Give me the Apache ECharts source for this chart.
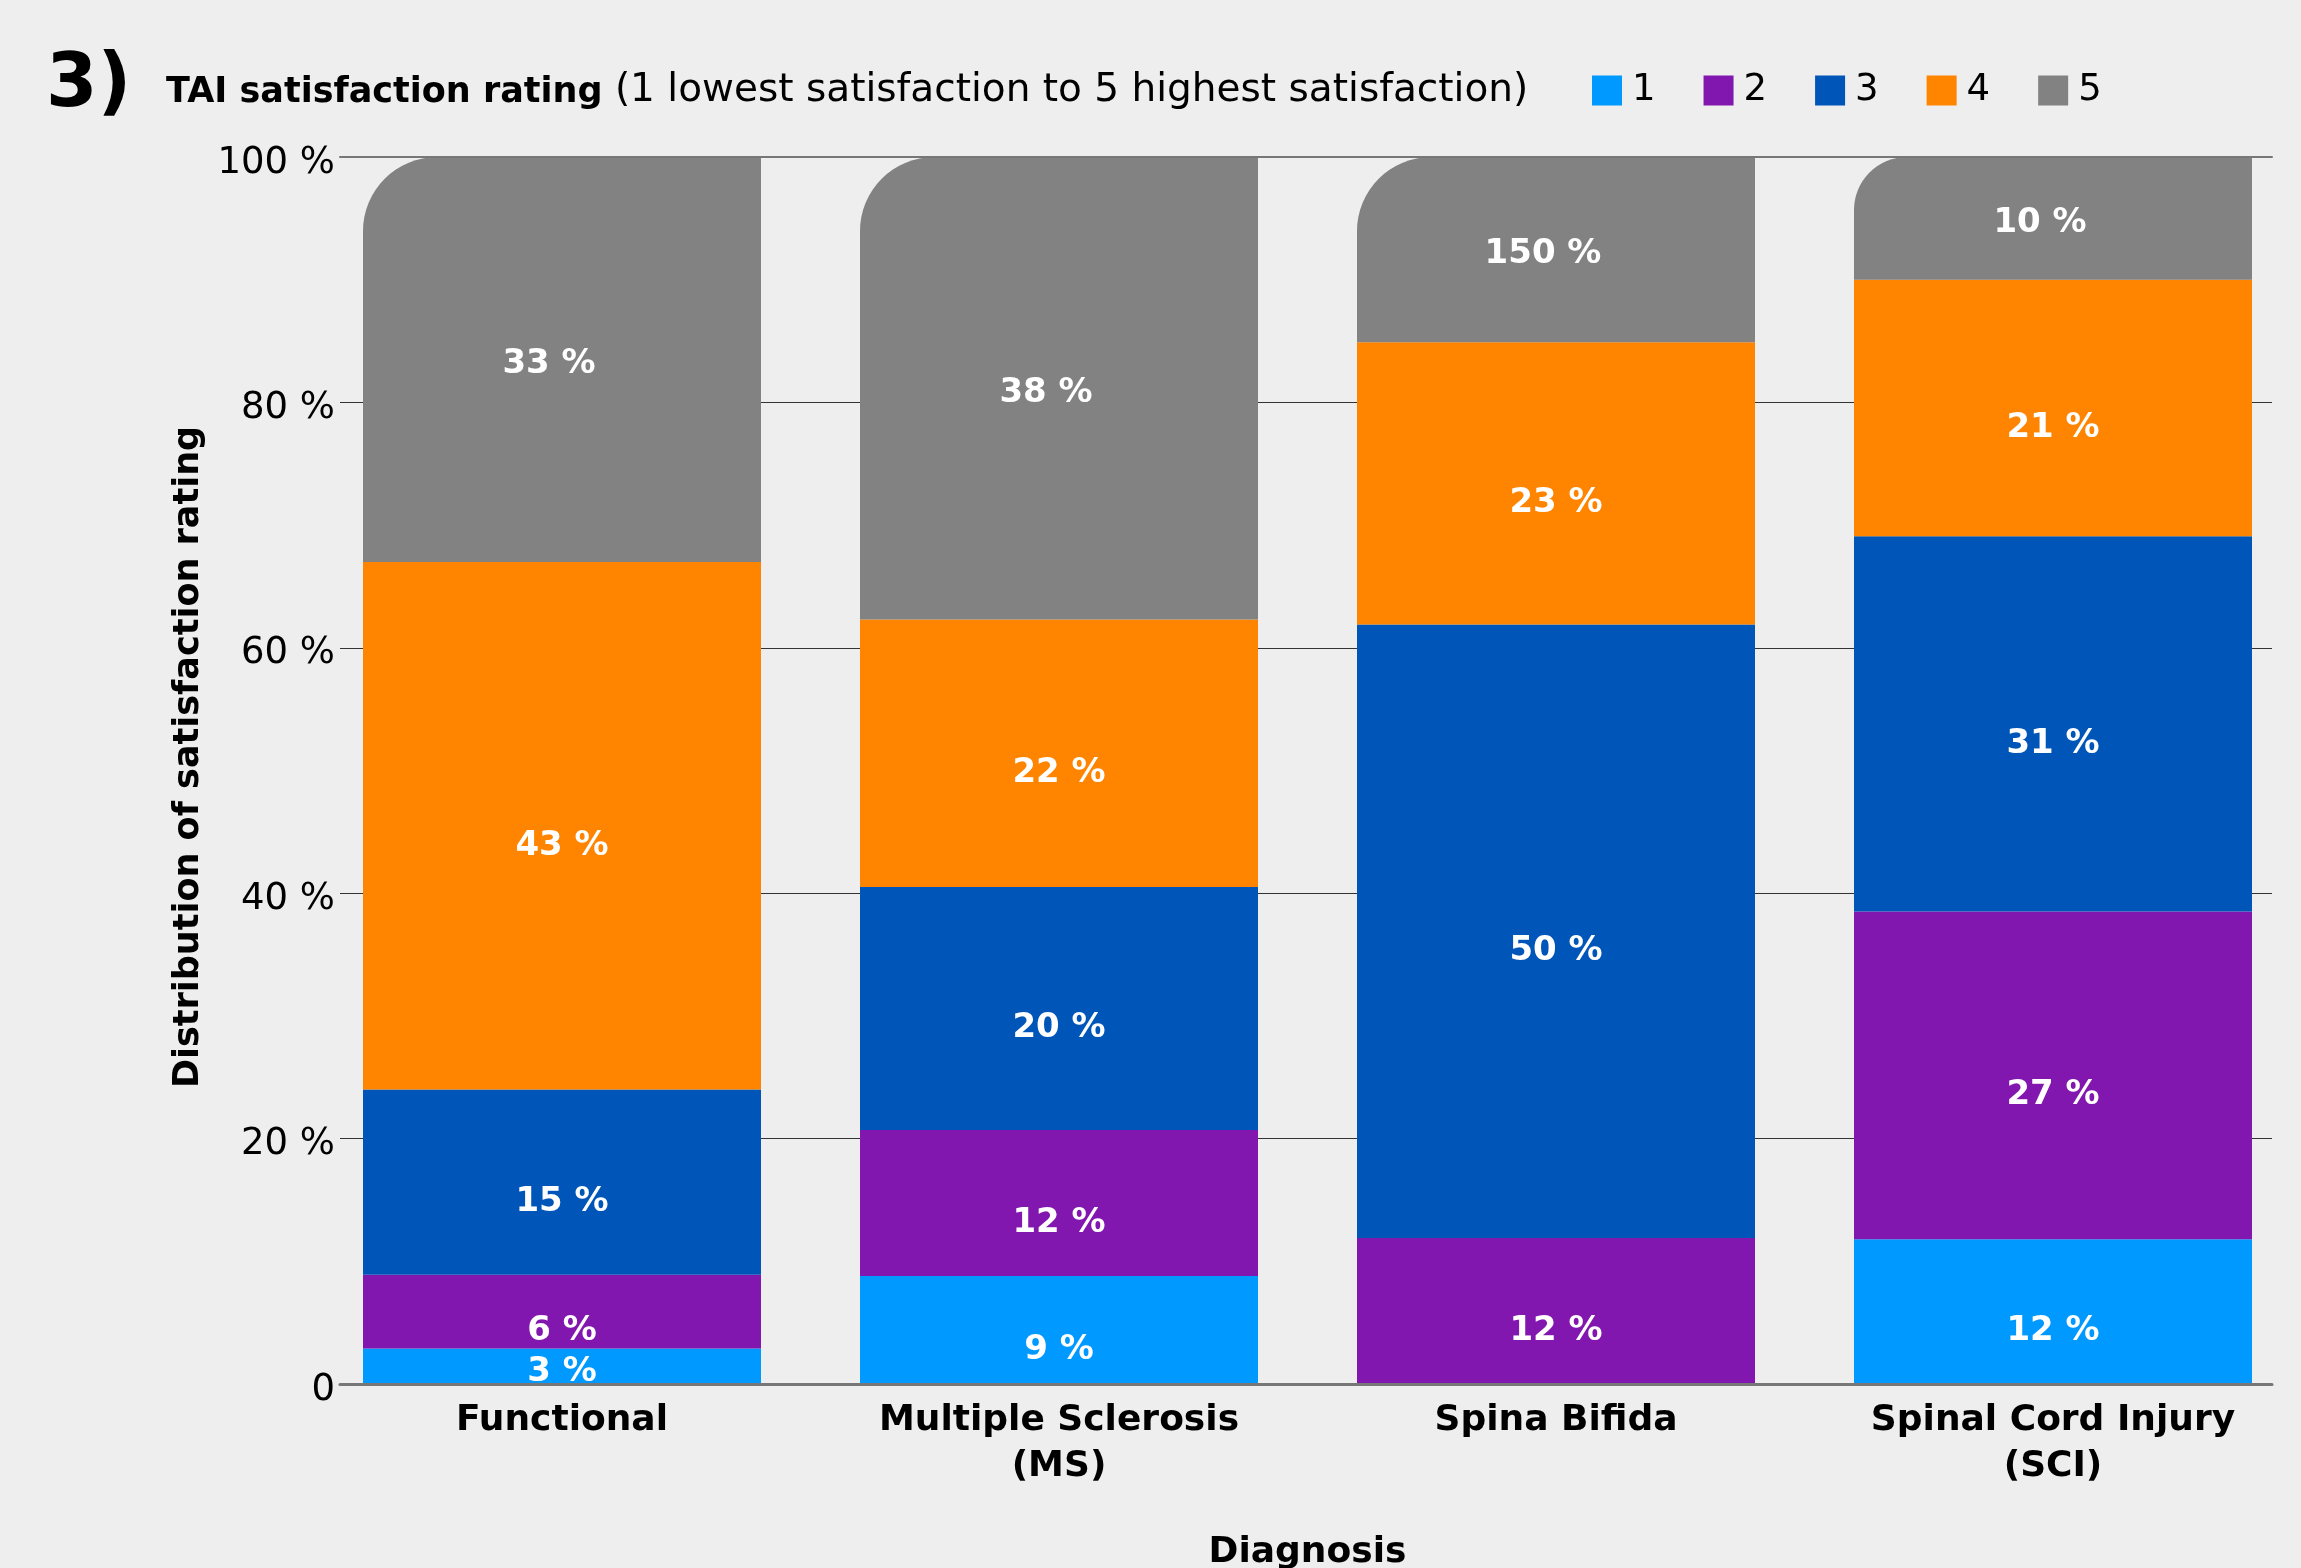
<!DOCTYPE html>
<html><head><meta charset="utf-8">
<script src="https://cdn.jsdelivr.net/npm/echarts@6/dist/echarts.min.js"></script>
<style>html,body{margin:0;padding:0;background:#EEEEEE}#c{width:2301px;height:1568px}</style>
</head><body><div id="c"></div>
<script>
// ---- data ----
const categories = ['Functional', 'Multiple Sclerosis\n(MS)', 'Spina Bifida', 'Spinal Cord Injury\n(SCI)'];
const ratingNames = ['1', '2', '3', '4', '5'];
const rating1 = [2.9, 8.8, 0, 11.8];
const rating2 = [6.0, 11.9, 11.9, 26.7];
const rating3 = [15.1, 19.8, 50.0, 30.6];
const rating4 = [43.0, 21.8, 23.0, 20.9];
const rating5 = [33.0, 37.7, 15.1, 10.0];
const labels1 = ['3 %', '9 %', '', '12 %'];
const labels2 = ['6 %', '12 %', '12 %', '27 %'];
const labels3 = ['15 %', '20 %', '50 %', '31 %'];
const labels4 = ['43 %', '22 %', '23 %', '21 %'];
const labels5 = ['33 %', '38 %', '150 %', '10 %'];
const yTicks = [0, 20, 40, 60, 80, 100];
const yTickLabels = ['0', '20 %', '40 %', '60 %', '80 %', '100 %'];

// ---- styles ----
const FONT = 'DejaVu Sans';
const colors = ['#0099FF', '#8217AF', '#0055B8', '#FF8400', '#828282'];
const cornerRadius = [74, 74, 74, 53];
const PLOT_TOP = 157, PLOT_H = 1227;

const values = [rating1, rating2, rating3, rating4, rating5];
const labelsAll = [labels1, labels2, labels3, labels4, labels5];

const series = values.map((vals, s) => ({
  name: ratingNames[s],
  type: 'bar',
  stack: 'total',
  xAxisIndex: 0,
  yAxisIndex: 0,
  barWidth: 398,
  itemStyle: { color: colors[s] },
  label: {
    show: true, position: 'inside', color: '#fff',
    fontFamily: FONT, fontWeight: 'bold', fontSize: 34,
    formatter: p => labelsAll[s][p.dataIndex]
  },
  data: vals.map((v, i) => {
    const item = { value: v };
    if (s === 4) {
      item.itemStyle = { borderRadius: [cornerRadius[i], 0, 0, 0] };
      item.label = { offset: [-13, 5] };
    } else {
      const seg = v * PLOT_H / 100;
      item.label = { offset: [0, Math.max(0, Math.min(15, seg / 2 - 17)) + 5] };
    }
    return item;
  })
}));

const chart = echarts.init(document.getElementById('c'), null, { renderer: 'canvas' });
chart.setOption({
  backgroundColor: '#EEEEEE',
  animation: false,
  title: [
    { text: '3)', left: 46, top: 50, padding: 0,
      textStyle: { fontFamily: FONT, fontWeight: 'bold', fontSize: 74, color: '#000' } },
    { text: '{b|TAI satisfaction rating}{r| (1 lowest satisfaction to 5 highest satisfaction)}',
      left: 166, top: 71, padding: 0,
      textStyle: { fontWeight: 'normal', rich: {
        b: { fontFamily: FONT, fontWeight: 'bold', fontSize: 35, color: '#000', verticalAlign: 'bottom' },
        r: { fontFamily: FONT, fontWeight: 'normal', fontSize: 39, color: '#000', verticalAlign: 'bottom' }
      } } }
  ],
  legend: {
    data: ratingNames, left: 1592, top: 72, itemWidth: 30, itemHeight: 30, itemGap: 48,
    icon: 'rect', selectedMode: false, padding: 0,
    textStyle: { fontFamily: FONT, fontSize: 37, color: '#000', padding: [0, 0, 0, 5] }
  },
  grid: [
    { left: 313.5, top: PLOT_TOP, width: 1988, height: PLOT_H, containLabel: false, outerBoundsMode: 'none' },
    { left: 340, top: PLOT_TOP, width: 1932, height: PLOT_H, containLabel: false, outerBoundsMode: 'none' }
  ],
  xAxis: [
    { gridIndex: 0, type: 'category', data: categories,
      axisLine: { show: false }, axisTick: { show: false }, splitLine: { show: false },
      axisLabel: { fontFamily: FONT, fontWeight: 'bold', fontSize: 36, color: '#000', lineHeight: 46, margin: 14, interval: 0 },
      name: 'Diagnosis', nameLocation: 'middle', nameGap: 151,
      nameTextStyle: { fontFamily: FONT, fontWeight: 'bold', fontSize: 36, color: '#000' } },
    { gridIndex: 1, type: 'value', min: 0, max: 1, position: 'bottom', z: 5,
      axisLine: { show: true, onZero: false, lineStyle: { color: '#777', width: 3 } },
      axisTick: { show: false }, axisLabel: { show: false }, splitLine: { show: false } },
    { gridIndex: 1, type: 'value', min: 0, max: 1, position: 'top', z: 5,
      axisLine: { show: true, onZero: false, lineStyle: { color: '#777', width: 2 } },
      axisTick: { show: false }, axisLabel: { show: false }, splitLine: { show: false } }
  ],
  yAxis: [
    { gridIndex: 0, type: 'value', min: 0, max: 100, show: false },
    { gridIndex: 1, type: 'value', min: 0, max: 100, interval: 20,
      axisLine: { show: false }, axisTick: { show: false },
      axisLabel: { fontFamily: FONT, fontSize: 37, color: '#000', margin: 5,
        verticalAlign: 'top', lineHeight: 12,
        formatter: v => yTickLabels[yTicks.indexOf(v)] },
      splitLine: { lineStyle: { color: '#333', width: 1 } },
      name: 'Distribution of satisfaction rating', nameLocation: 'middle', nameGap: 134, nameRotate: 90,
      nameTextStyle: { fontFamily: FONT, fontWeight: 'bold', fontSize: 35, color: '#000', padding: [0, 0, 0, 27] } }
  ],
  series: series
});
</script>
</body></html>
